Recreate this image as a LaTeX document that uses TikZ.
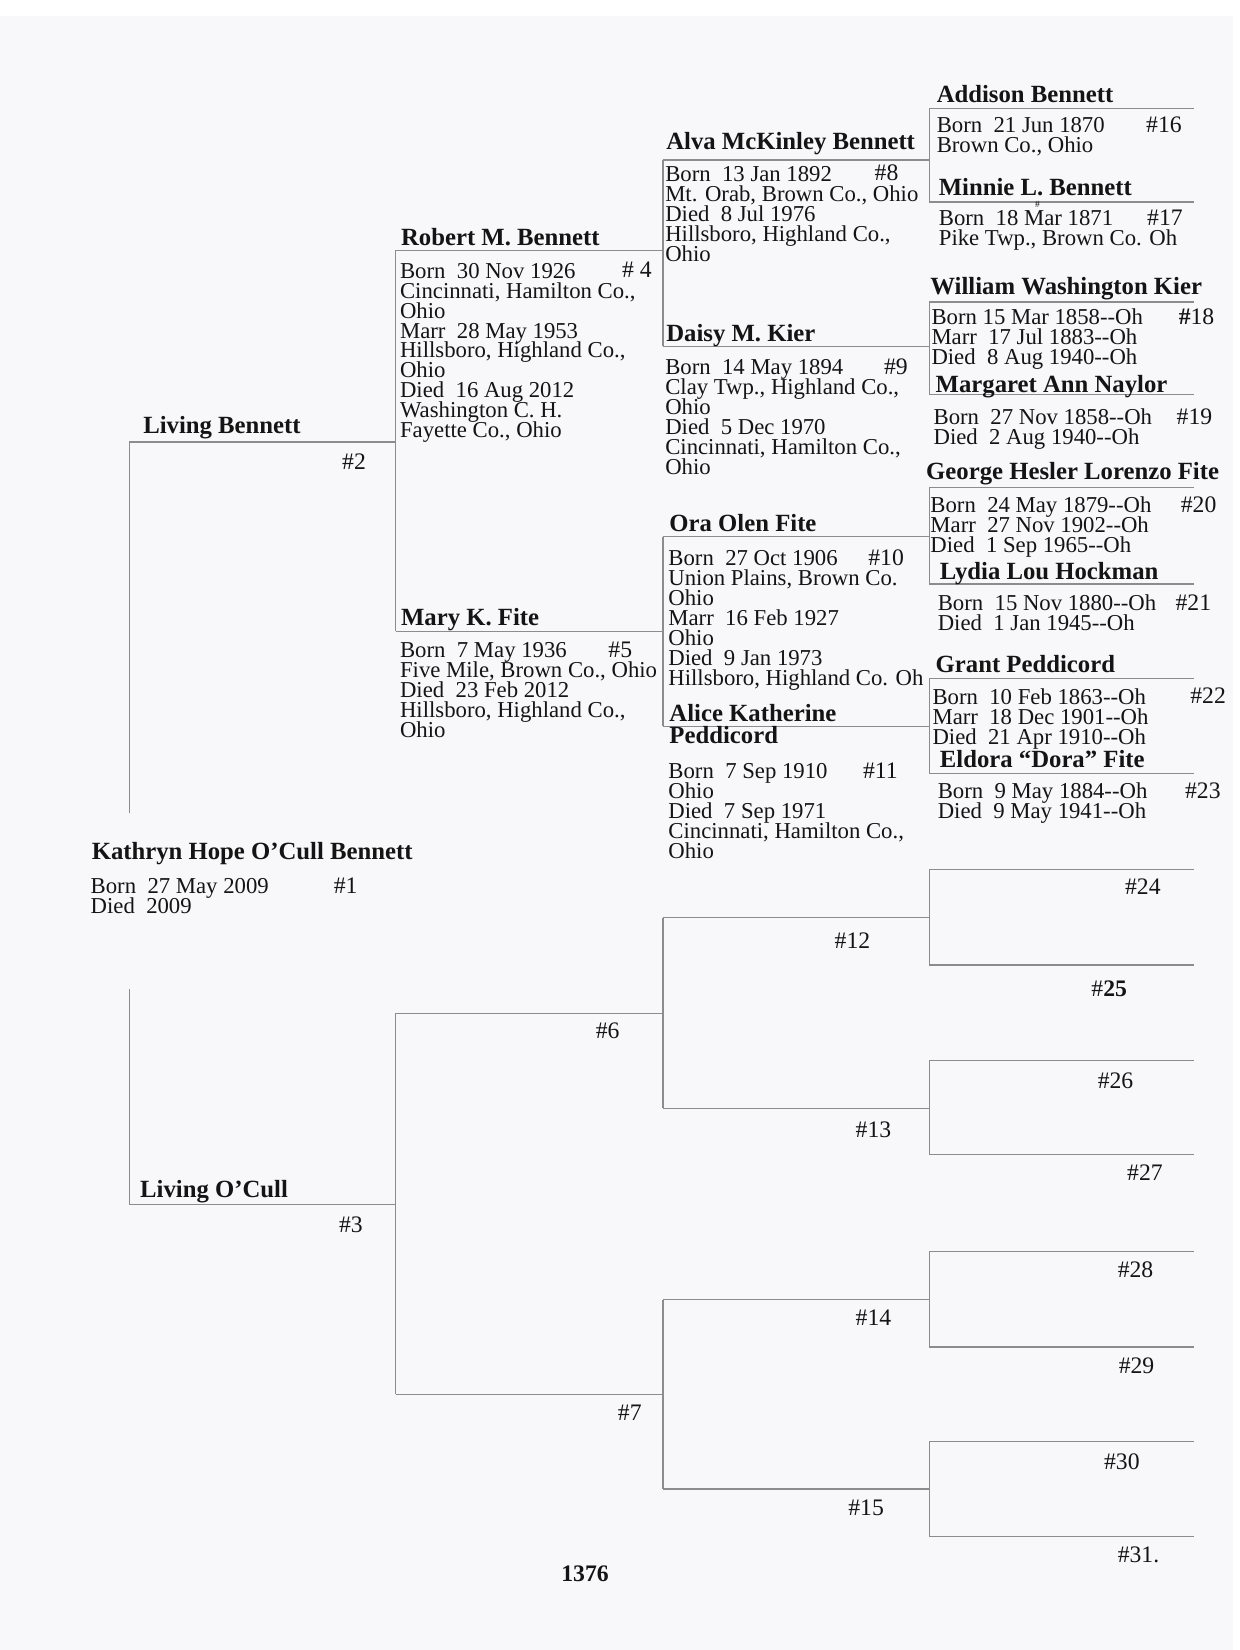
\documentclass[tikz,border=0pt]{standalone}
\usepackage{fontspec}
\setmainfont{Liberation Serif}
\usetikzlibrary{calc}
\definecolor{paper}{RGB}{248,248,250}
\definecolor{rulec}{RGB}{140,140,140}
\definecolor{ink}{RGB}{20,20,20}
\newcommand\dsp{\ \ }
\newcommand\hh{-{}-}
\newcommand\fst{\rule{0pt}{16pt}}
\begin{document}
\begin{tikzpicture}[x=1pt,y=-1pt,
  nm/.style={font={\fontsize{23.5}{21}\selectfont\bfseries}, anchor=base west, inner sep=0pt, text=ink},
  bd/.style={font={\fontsize{21.6}{19}\selectfont\lineskiplimit=-100pt}, anchor=north west, inner sep=0pt, align=left, text=ink},
  num/.style={font={\fontsize{22.5}{22}\selectfont}, anchor=base west, inner sep=0pt, text=ink},
  tree/.style={draw=rulec, line width=1.1pt}]
\useasboundingbox (0,0) rectangle (1178,1568);
\fill[white] (0,0) rectangle (1178,1568);
\fill[paper] (0,15) rectangle (1172,1568);

% line end coordinates
\foreach \n/\y in {2/420,3/1145}
  {\coordinate (L\n) at (123,\y); \coordinate (R\n) at (376,\y);}
\foreach \n/\y in {4/238,5/600,6/963,7/1325}
  {\coordinate (L\n) at (376,\y); \coordinate (R\n) at (630,\y);}
\foreach \n/\y in {8/152,9/329,10/510,11/690,12/872,13/1053,14/1235,15/1415}
  {\coordinate (L\n) at (630,\y); \coordinate (R\n) at (883,\y);}
\foreach \n/\y in {16/103,17/192,18/287,19/375,20/463,21/555,22/645,23/735,24/826,25/917,26/1008,27/1097,28/1189,29/1280,30/1370,31/1460}
  {\coordinate (L\n) at (883,\y); \coordinate (R\n) at (1135,\y);}
\coordinate (g1) at (123,773);
\coordinate (g2) at (123,940);

\foreach \n in {2,...,31} \draw[tree] (L\n) -- (R\n);
\foreach \k in {2,...,15} {
  \pgfmathtruncatemacro\a{2*\k}
  \pgfmathtruncatemacro\b{2*\k+1}
  \draw[tree] (L\a) -- (L\b);
}
\draw[tree] (L2) -- (g1);
\draw[tree] (g2) -- (L3);

% generation 1
\node[nm] (n1) at (87,817) {Kathryn Hope O’Cull Bennett};
\node[bd] (b1) at (86,833) {\fst Born\dsp 27 May 2009\\Died\dsp 2009};
\node[num] (h1) at (317,849) {\#1};

% generation 2
\node[nm] (n2) at (136,412) {Living Bennett};
\node[num] (h2) at (325,446) {\#2};
\node[nm] (n3) at (133,1138) {Living O’Cull};
\node[num] (h3) at (322,1171) {\#3};

% generation 3
\node[nm] (n4) at (381,233) {Robert M. Bennett};
\node[bd] (b4) at (380,248) {\fst Born\dsp 30 Nov 1926\\Cincinnati, Hamilton Co.,\\Ohio\\Marr\dsp 28 May 1953\\Hillsboro, Highland Co.,\\Ohio\\Died\dsp 16 Aug 2012\\Washington C. H.\\Fayette Co., Ohio};
\node[num] (h4) at (591,264) {\# 4};

\node[nm] (n5) at (381,594) {Mary K. Fite};
\node[bd] (b5) at (380,609) {\fst Born\dsp 7 May 1936\\Five Mile, Brown Co., Ohio\\Died\dsp 23 Feb 2012\\Hillsboro, Highland Co.,\\Ohio};
\node[num] (h5) at (578,625) {\#5};

\node[num] (h6) at (566,987) {\#6};
\node[num] (h7) at (587,1350) {\#7};

% generation 4
\node[nm] (n8) at (633,142) {Alva McKinley Bennett};
\node[bd] (b8) at (632,156) {\fst Born\dsp 13 Jan 1892\\Mt. Orab, Brown Co., Ohio\\Died\dsp 8 Jul 1976\\Hillsboro, Highland Co.,\\Ohio};
\node[num] (h8) at (831,172) {\#8};

\node[nm] (n9) at (633,325) {Daisy M. Kier};
\node[bd] (b9) at (632,340) {\fst Born\dsp 14 May 1894\\Clay Twp., Highland Co.,\\Ohio\\Died\dsp 5 Dec 1970\\Cincinnati, Hamilton Co.,\\Ohio};
\node[num] (h9) at (840,356) {\#9};

\node[nm] (n10) at (636,505) {Ora Olen Fite};
\node[bd] (b10) at (635,521) {\fst Born\dsp 27 Oct 1906\\Union Plains, Brown Co.\\Ohio\\Marr\dsp 16 Feb 1927\\Ohio\\Died\dsp 9 Jan 1973\\Hillsboro, Highland Co. Oh};
\node[num] (h10) at (825,537) {\#10};

\node[nm] (n11) at (636,686) {Alice Katherine};
\node[nm] (n11b) at (636,707) {Peddicord};
\node[bd] (b11) at (635,724) {\fst Born\dsp 7 Sep 1910\\Ohio\\Died\dsp 7 Sep 1971\\Cincinnati, Hamilton Co.,\\Ohio};
\node[num] (h11) at (820,740) {\#11};

\node[num] (h12) at (793,901) {\#12};
\node[num] (h13) at (813,1081) {\#13};
\node[num] (h14) at (813,1260) {\#14};
\node[num] (h15) at (806,1440) {\#15};

% generation 5
\node[nm] (n16) at (890,97) {Addison Bennett};
\node[bd] (b16) at (890,110) {\fst Born\dsp 21 Jun 1870\\Brown Co., Ohio};
\node[num] (h16) at (1089,126) {\#16};

\node[nm] (n17) at (892,186) {Minnie L. Bennett};
\node[font={\fontsize{9}{9}\selectfont}, inner sep=0pt, text=ink] (t17) at (986,194) {\#};
\node[bd] (b17) at (892,198) {\fst Born\dsp 18 Mar 1871\\Pike Twp., Brown Co. Oh};
\node[num] (h17) at (1090,214) {\#17};

\node[nm] (n18) at (884,280) {William Washington Kier};
\node[bd] (b18) at (885,292) {\fst Born 15 Mar 1858\hh Oh\\Marr\dsp 17 Jul 1883\hh Oh\\Died\dsp 8 Aug 1940\hh Oh};
\node[num] (h18) at (1120,308) {\textbf{\#}18};

\node[nm] (n19) at (889,373) {Margaret Ann Naylor};
\node[bd] (b19) at (887,387) {\fst Born\dsp 27 Nov 1858\hh Oh\\Died\dsp 2 Aug 1940\hh Oh};
\node[num] (h19) at (1118,403) {\#19};

\node[nm] (n20) at (880,456) {George Hesler Lorenzo Fite};
\node[bd] (b20) at (884,471) {\fst Born\dsp 24 May 1879\hh Oh\\Marr\dsp 27 Nov 1902\hh Oh\\Died\dsp 1 Sep 1965\hh Oh};
\node[num] (h20) at (1122,487) {\#20};

\node[nm] (n21) at (893,551) {Lydia Lou Hockman};
\node[bd] (b21) at (891,564) {\fst Born\dsp 15 Nov 1880\hh Oh\\Died\dsp 1 Jan 1945\hh Oh};
\node[num] (h21) at (1117,580) {\#21};

\node[nm] (n22) at (889,639) {Grant Peddicord};
\node[bd] (b22) at (886,653) {\fst Born\dsp 10 Feb 1863\hh Oh\\Marr\dsp 18 Dec 1901\hh Oh\\Died\dsp 21 Apr 1910\hh Oh};
\node[num] (h22) at (1131,669) {\#22};

\node[nm] (n23) at (893,729) {Eldora “Dora” Fite};
\node[bd] (b23) at (891,743) {\fst Born\dsp 9 May 1884\hh Oh\\Died\dsp 9 May 1941\hh Oh};
\node[num] (h23) at (1126,759) {\#23};

\node[num] (h24) at (1069,850) {\#24};
\node[num] (h25) at (1037,947) {\#\textbf{25}};
\node[num] (h26) at (1043,1034) {\#26};
\node[num] (h27) at (1071,1122) {\#27};
\node[num] (h28) at (1062,1214) {\#28};
\node[num] (h29) at (1063,1305) {\#29};
\node[num] (h30) at (1049,1396) {\#30};
\node[num] (h31) at (1062,1485) {\#31.};

% page number
\node[font={\fontsize{22.5}{22}\selectfont\bfseries}, anchor=base, inner sep=0pt, text=ink] (pg) at (556,1503) {1376};
\end{tikzpicture}
\end{document}
